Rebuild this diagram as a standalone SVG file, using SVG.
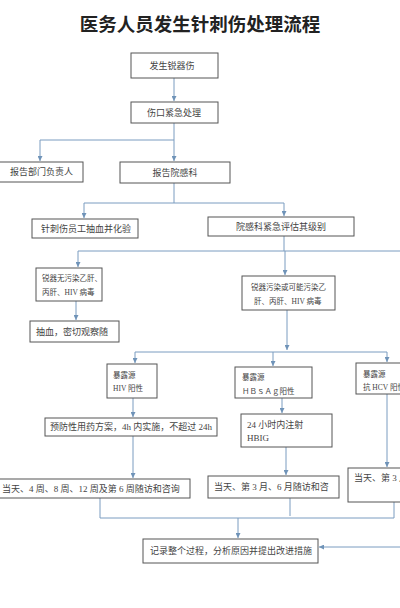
<svg xmlns="http://www.w3.org/2000/svg" width="400" height="608" viewBox="0 0 400 608">
<defs>
<marker id="ah" viewBox="0 0 6 6" refX="6" refY="3" markerWidth="5" markerHeight="5" orient="auto" markerUnits="userSpaceOnUse">
<path d="M0,0 L6,3 L0,6 Z" fill="#6f93b8"/>
</marker>
<style>
.b{fill:#fff;stroke:#555;stroke-width:1}
.t{font-family:"Liberation Serif","Noto Sans CJK SC",serif;font-size:9px;fill:#444}
.s{font-family:"Liberation Serif","Noto Sans CJK SC",serif;font-size:7.5px;fill:#444}
.c{text-anchor:middle}
.l{fill:none;stroke:#7a9cc0;stroke-width:1}
.a{fill:none;stroke:#7a9cc0;stroke-width:1;marker-end:url(#ah)}
</style>
</defs>
<rect width="400" height="608" fill="#fff"/>
<text x="200" y="31" text-anchor="middle" style="font-family:'Noto Sans CJK SC',sans-serif;font-size:18.5px;font-weight:bold;fill:#222">医务人员发生针刺伤处理流程</text>

<g id="connectors">
<path class="a" d="M174,78 V101"/>
<path class="l" d="M174,123 V140 M40,140 H174"/>
<path class="a" d="M40,140 V161"/>
<path class="a" d="M174,140 V161"/>
<path class="l" d="M174,183 V203 M84,203 H284"/>
<path class="a" d="M84,203 V218"/>
<path class="a" d="M284,203 V216"/>
<path class="l" d="M284,236 V251 M78,251 H400"/>
<path class="a" d="M78,251 V267"/>
<path class="a" d="M285,251 V275"/>
<path class="a" d="M76,301 V320"/>
<path class="a" d="M287,310 V350"/>
<path class="l" d="M135,352 H387"/>
<path class="a" d="M135,352 V363"/>
<path class="a" d="M273,352 V366"/>
<path class="a" d="M387,352 V362"/>
<path class="a" d="M133,398 V417"/>
<path class="a" d="M282,398 V413"/>
<path class="a" d="M387,394 V467"/>
<path class="a" d="M133,436 V478"/>
<path class="a" d="M286,447 V475"/>
<path class="l" d="M100,498 V518 M290,498 V516 M394,502 V518 M100,518 H394"/>
<path class="a" d="M238,518 V538"/>
<path class="a" d="M400,547 H319"/>
</g>

<g id="n1"><rect class="b" x="131" y="53" width="87" height="25"/><text class="t c" x="172" y="69">发生锐器伤</text></g>
<g id="n2"><rect class="b" x="131" y="102" width="87" height="21"/><text class="t c" x="174" y="116">伤口紧急处理</text></g>
<g id="n3"><rect class="b" x="-1" y="162" width="84" height="20"/><text class="t" x="10" y="175">报告部门负责人</text></g>
<g id="n4"><rect class="b" x="120" y="162" width="110" height="21"/><text class="t c" x="175" y="176">报告院感科</text></g>
<g id="n5"><rect class="b" x="32" y="219" width="106" height="19"/><text class="t c" x="86" y="232">针刺伤员工抽血并化验</text></g>
<g id="n6"><rect class="b" x="208" y="217" width="146" height="19"/><text class="t c" x="281" y="230">院感科紧急评估其级别</text></g>
<g id="n7"><rect class="b" x="36" y="268" width="66" height="33"/><text class="s" x="42" y="281">锐器无污染乙肝、</text><text class="s" x="42" y="295">丙肝、HIV 病毒</text></g>
<g id="n8"><rect class="b" x="30" y="321" width="89" height="21"/><text class="t" x="36" y="335">抽血，密切观察随</text></g>
<g id="n9"><rect class="b" x="242" y="276" width="93" height="34"/><text class="s" x="251" y="290">锐器污染或可能污染乙</text><text class="s" x="254" y="304">肝、丙肝、HIV 病毒</text></g>
<g id="n10"><rect class="b" x="107" y="364" width="50" height="34"/><text class="s" x="113" y="378">暴露源</text><text class="s" x="113" y="391">HIV 阳性</text></g>
<g id="n11"><rect class="b" x="235" y="367" width="77" height="31"/><text class="s" x="242" y="380">暴露源</text><text class="s" x="242" y="394">ＨＢｓＡｇ阳性</text></g>
<g id="n12"><rect class="b" x="356" y="363" width="60" height="31"/><text class="s" x="363" y="377">暴露源</text><text class="s" x="363" y="390">抗 HCV 阳性</text></g>
<g id="n13"><rect class="b" x="45" y="418" width="172" height="18"/><text class="t c" x="131" y="430">预防性用药方案，4h 内实施，不超过 24h</text></g>
<g id="n14"><rect class="b" x="241" y="414" width="91" height="33"/><text class="t" x="247" y="428">24 小时内注射</text><text class="t" x="247" y="441">HBIG</text></g>
<g id="n15"><rect class="b" x="-1" y="479" width="191" height="19"/><text class="t" x="2" y="492">当天、4 周、8 周、12 周及第 6 周随访和咨询</text></g>
<g id="n16"><rect class="b" x="208" y="476" width="131" height="22"/><text class="t" x="214" y="490">当天、第 3 月、6 月随访和咨</text></g>
<g id="n17"><rect class="b" x="348" y="468" width="60" height="34"/><text class="t" x="354" y="481">当天、第 3 月</text></g>
<g id="n18"><rect class="b" x="143" y="539" width="175" height="24"/><text class="t c" x="231" y="554">记录整个过程，分析原因并提出改进措施</text></g>
</svg>
